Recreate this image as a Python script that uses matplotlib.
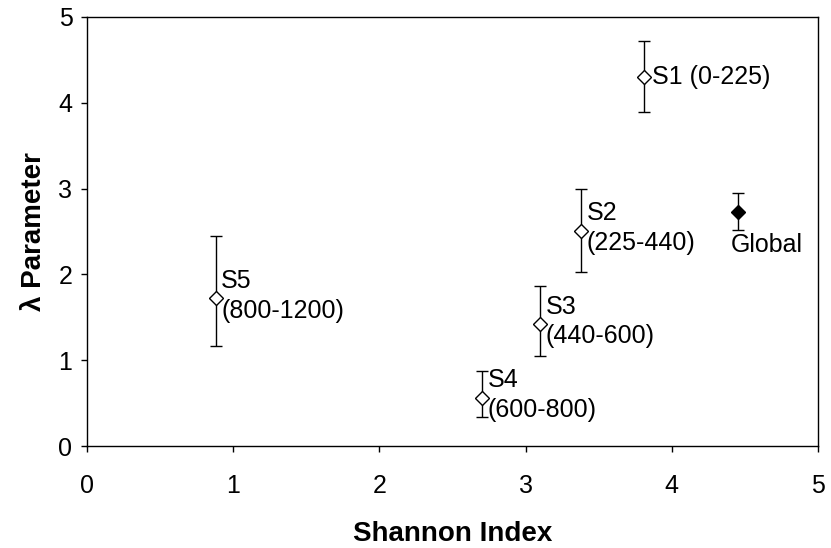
import matplotlib
matplotlib.use("Agg")
import matplotlib.pyplot as plt

plt.rcParams['font.family'] = ['Liberation Sans', 'DejaVu Sans']

labels = ["S1 (0-225)", "S2\n(225-440)", "S3\n(440-600)", "S4\n(600-800)", "S5\n(800-1200)"]
shannon = [3.81, 3.38, 3.10, 2.70, 0.88]
lam = [4.30, 2.51, 1.42, 0.56, 1.72]
lam_hi = [4.72, 3.00, 1.86, 0.87, 2.45]
lam_lo = [3.89, 2.03, 1.05, 0.34, 1.17]

global_label = "Global"
global_x = 4.45
global_y = 2.73
global_hi = 2.95
global_lo = 2.52

xticks = [0, 1, 2, 3, 4, 5]
yticks = [0, 1, 2, 3, 4, 5]

fig = plt.figure(figsize=(8.31, 5.48), dpi=100)
ax = fig.add_axes([0.1047, 0.1861, 0.8797, 0.7829])

yerr = [[y - lo for y, lo in zip(lam, lam_lo)], [hi - y for y, hi in zip(lam, lam_hi)]]
ax.errorbar(shannon, lam, yerr=yerr, fmt='D', mfc='white', mec='black', ecolor='black',
            ms=7, mew=1.0, elinewidth=1.0, capsize=4.5, capthick=1.0, zorder=3)
ax.errorbar([global_x], [global_y], yerr=[[global_y - global_lo], [global_hi - global_y]],
            fmt='D', mfc='black', mec='black', ecolor='black',
            ms=7, mew=1.0, elinewidth=1.0, capsize=4.5, capthick=1.0, zorder=3)

for x, y, t in zip(shannon, lam, labels):
    if "\n" in t:
        ax.annotate(t, (x, y), xytext=(4, 2), textcoords='offset points',
                    ha='left', va='center', fontsize=18, linespacing=1.3)
    else:
        ax.annotate(t, (x, y), xytext=(6, 0), textcoords='offset points',
                    ha='left', va='center', fontsize=18)
ax.annotate(global_label, (global_x, global_y), xytext=(-5, -15), textcoords='offset points',
            ha='left', va='top', fontsize=18)

ax.set_xlim(0, 5)
ax.set_ylim(0, 5)
ax.set_xticks(xticks)
ax.set_yticks(yticks)
ax.tick_params(direction='out', length=4.5, width=1, labelsize=18)
ax.tick_params(axis='y', pad=6)
ax.tick_params(axis='x', pad=16)
for s in ax.spines.values():
    s.set_linewidth(1.0)

ax.set_xlabel("Shannon Index", fontsize=20, fontweight='bold', labelpad=16)
ax.set_ylabel("λ Parameter", fontsize=20, fontweight='bold', labelpad=8)

fig.savefig("out.png", dpi=100)
